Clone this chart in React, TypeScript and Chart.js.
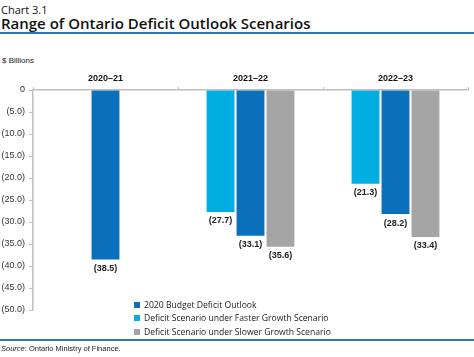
import React, { useEffect, useRef } from "react";
import { Chart, registerables } from "chart.js";

Chart.register(...registerables);

const categories = ["2020–21", "2021–22", "2022–23"];
const fasterGrowth = [null, -27.7, -21.3];
const budgetOutlook = [-38.5, -33.1, -28.2];
const slowerGrowth = [null, -35.6, -33.4];
const seriesNames = [
  "2020 Budget Deficit Outlook",
  "Deficit Scenario under Faster Growth Scenario",
  "Deficit Scenario under Slower Growth Scenario",
];
const DARK = "#0a70bb";
const LIGHT = "#00aee2";
const GRAY = "#a5a5a5";

const fmt = (v: number) => (v === 0 ? "0" : "(" + Math.abs(v).toFixed(1) + ")");

const labelPlugin = {
  id: "barLabels",
  afterDatasetsDraw(chart: any) {
    const ctx = chart.ctx;
    ctx.save();
    ctx.font = "bold 9px 'Liberation Sans', Arial, sans-serif";
    ctx.fillStyle = "#222";
    ctx.textAlign = "center";
    ctx.textBaseline = "middle";
    chart.data.datasets.forEach((ds: any, i: number) => {
      const meta = chart.getDatasetMeta(i);
      meta.data.forEach((el: any, j: number) => {
        const v = ds.data[j];
        if (v === null || v === undefined) return;
        ctx.fillText(fmt(v), el.x, el.y + 9);
      });
    });
    ctx.restore();
  },
};

export default function App() {
  const ref = useRef<HTMLCanvasElement | null>(null);
  useEffect(() => {
    document.body.style.margin = "0";
    const chart = new Chart(ref.current!, {
      type: "bar",
      data: {
        labels: categories,
        datasets: [
          { label: seriesNames[1], data: fasterGrowth as any, backgroundColor: LIGHT },
          { label: seriesNames[0], data: budgetOutlook, backgroundColor: DARK },
          { label: seriesNames[2], data: slowerGrowth as any, backgroundColor: GRAY },
        ],
      },
      options: {
        animation: false,
        responsive: false,
        maintainAspectRatio: false,
        layout: { padding: { top: 0, right: 6, bottom: 47, left: 0 } },
        plugins: { legend: { display: false }, tooltip: { enabled: false } },
        datasets: { bar: { categoryPercentage: 0.62, barPercentage: 0.93, skipNull: false } as any },
        scales: {
          x: {
            position: "top",
            afterFit: (s: any) => { s.height = 90; },
            grid: { drawOnChartArea: false, drawTicks: true, tickLength: 3, offset: true, color: "#bfbfbf" },
            border: { color: "#bfbfbf", width: 1.5 },
            ticks: { color: "#111", padding: 3, font: { family: "'Liberation Sans', Arial, sans-serif", size: 9, weight: "bold" } },
          },
          y: {
            min: -50,
            max: 0,
            afterFit: (s: any) => { s.width = 33; },
            grid: { drawOnChartArea: false, drawTicks: true, tickLength: 4, color: "#bfbfbf" },
            border: { color: "#bfbfbf", width: 1.5 },
            ticks: {
              stepSize: 5,
              padding: 4,
              color: "#333",
              font: { family: "'Liberation Sans', Arial, sans-serif", size: 9 },
              callback: (v: any) => fmt(Number(v)),
            },
          },
        },
      },
      plugins: [labelPlugin],
    });
    return () => chart.destroy();
  }, []);

  const legendItems = [
    { c: DARK, t: seriesNames[0] },
    { c: LIGHT, t: seriesNames[1] },
    { c: GRAY, t: seriesNames[2] },
  ];

  return (
    <div style={{ position: "fixed", left: 0, top: 0, width: 474, height: 357, background: "#fff", overflow: "hidden" }}>
      <div style={{ position: "absolute", left: 1, top: 2, font: "500 11px 'Open Sans', sans-serif", color: "#111" }}>Chart 3.1</div>
      <div style={{ position: "absolute", left: 1, top: 13, font: "600 15px 'Open Sans', sans-serif", color: "#111", whiteSpace: "nowrap" }}>
        Range of Ontario Deficit Outlook Scenarios
      </div>
      <div style={{ position: "absolute", left: 0, top: 32, width: 474, height: 1.5, background: "#2e75b6" }} />
      <div style={{ position: "absolute", left: 2, top: 56, font: "8px 'Liberation Sans', Arial, sans-serif", color: "#222" }}>$ Billions</div>
      <canvas ref={ref} width={474} height={357} style={{ position: "absolute", left: 0, top: 0 }} />
      {legendItems.map((it, i) => (
        <div key={i} style={{ position: "absolute", left: 134, top: 299 + i * 13.3, display: "flex", alignItems: "center", whiteSpace: "nowrap" }}>
          <span style={{ width: 6, height: 6, background: it.c, display: "inline-block", marginRight: 4 }} />
          <span style={{ font: "500 8.6px 'Open Sans', sans-serif", color: "#222" }}>{it.t}</span>
        </div>
      ))}
      <div style={{ position: "absolute", left: 0, top: 339, width: 474, height: 1.5, background: "#2e75b6" }} />
      <div style={{ position: "absolute", left: 1, top: 344, font: "7.5px 'Liberation Sans', Arial, sans-serif", color: "#222", whiteSpace: "nowrap" }}>
        <i>Source</i>: Ontario Ministry of Finance.
      </div>
    </div>
  );
}
